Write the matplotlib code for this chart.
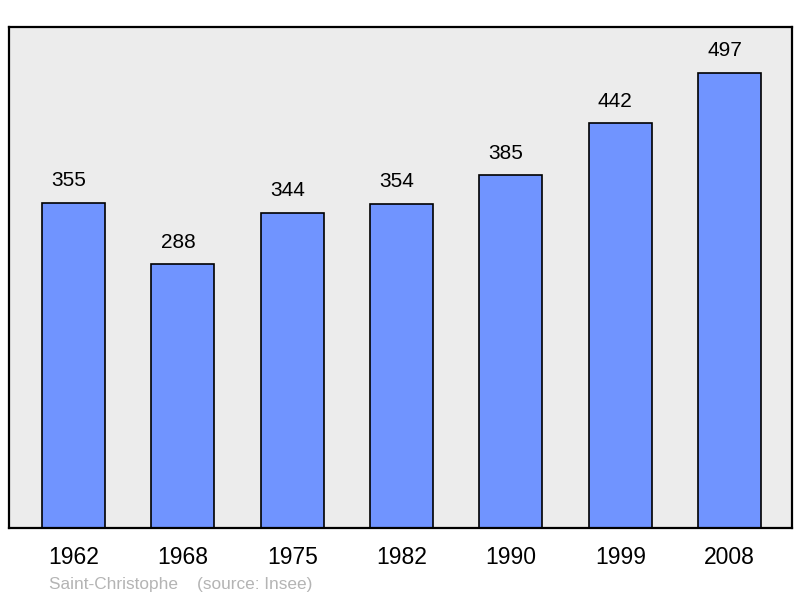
import matplotlib.pyplot as plt

years = ['1962', '1968', '1975', '1982', '1990', '1999', '2008']
population = [355, 288, 344, 354, 385, 442, 497]

plt.rcParams['font.family'] = ['Liberation Sans', 'DejaVu Sans']

fig = plt.figure(figsize=(8, 5.98), dpi=100)
ax = fig.add_axes([9/800, 1 - 528/598, 783/800, 501/598])
ax.set_facecolor('#ececec')

xpos = range(len(years))
ax.bar(xpos, population, width=0.576, color='#7094ff', edgecolor='black', linewidth=1.2, zorder=2)

# value labels, sit a little left of the bar centre like the original
for x, v in zip(xpos, population):
    ax.annotate(str(v), (x, v), xytext=(-3.6, 15.8), textcoords='offset points',
                ha='center', va='center', fontsize=15)

ax.set_xlim(-0.59, 6.57)
ax.set_ylim(0, 547)
ax.set_yticks([])
ax.set_xticks(list(xpos))
ax.set_xticklabels(years, fontsize=16.5)
ax.tick_params(axis='x', length=0, pad=13)
for s in ax.spines.values():
    s.set_linewidth(1.6)

fig.text(49/800, 1 - 584/598, 'Saint-Christophe    (source: Insee)', color='#b4b4b4',
         fontsize=12.4, ha='left', va='center')

fig.savefig('out.png', dpi=100)
